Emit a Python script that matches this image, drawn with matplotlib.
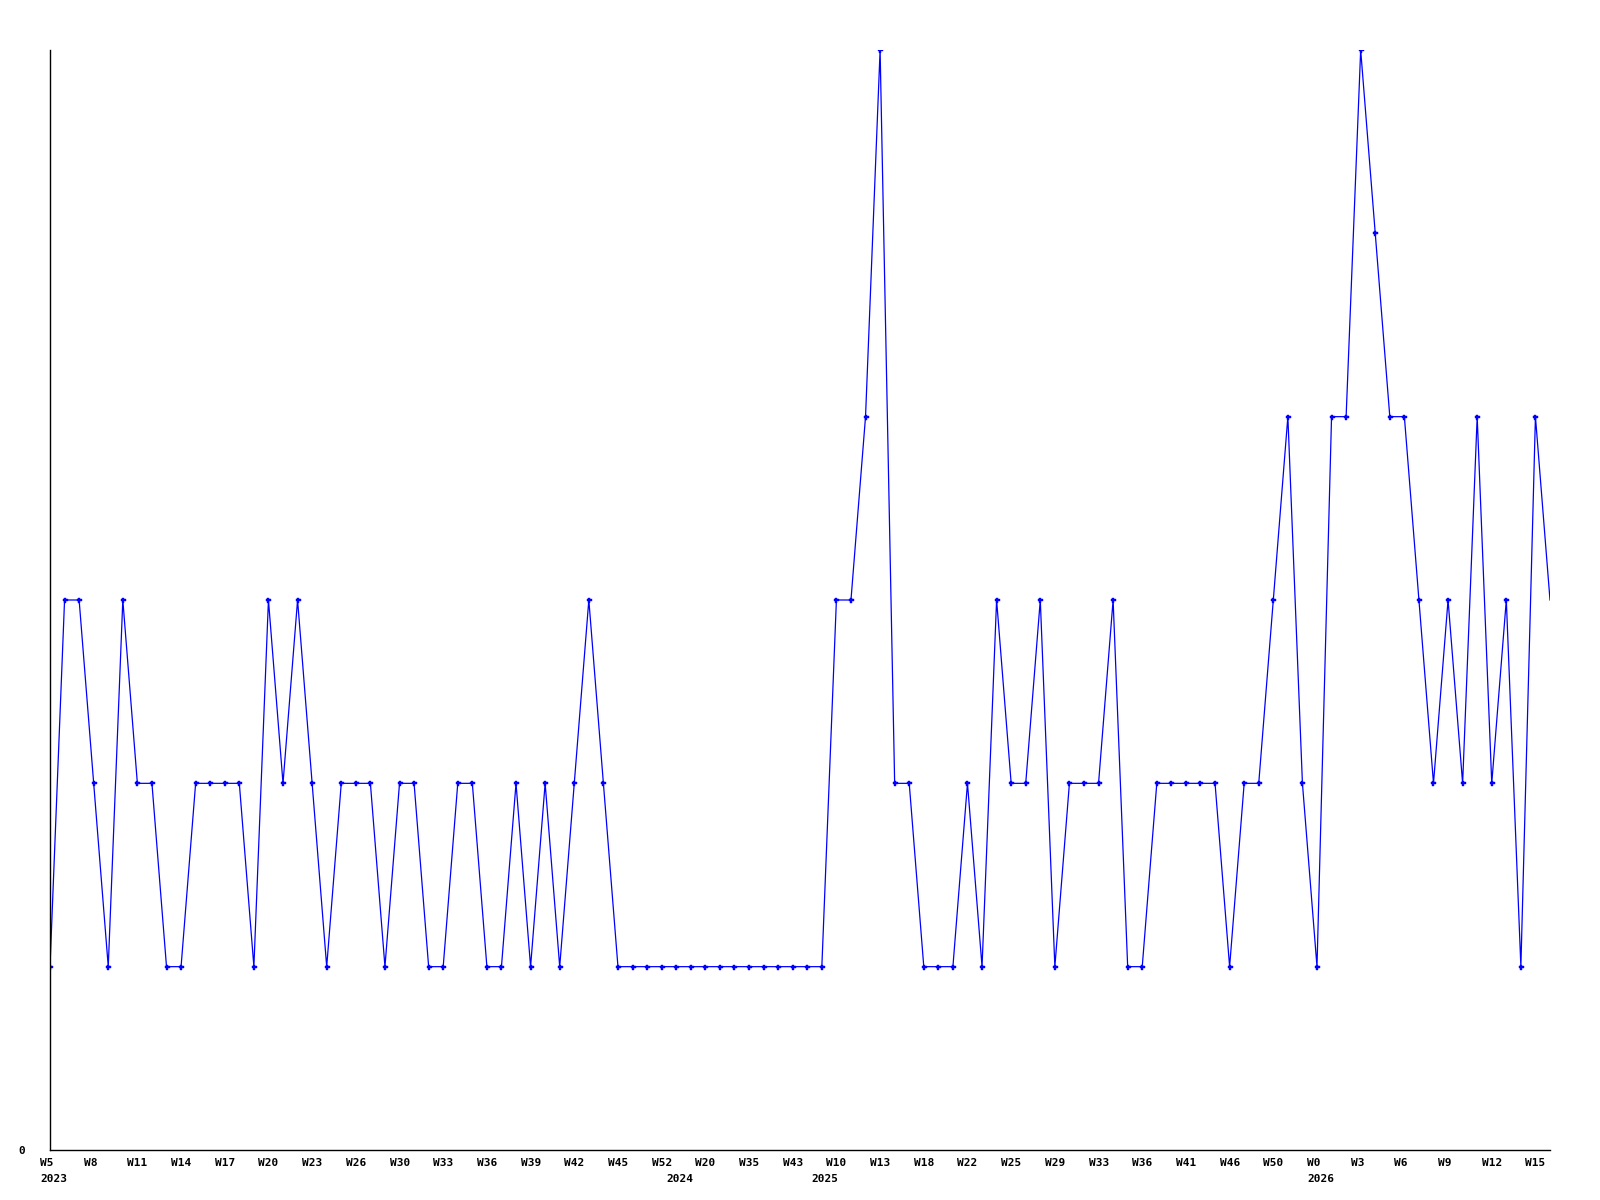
import matplotlib
matplotlib.use("Agg")
import matplotlib.pyplot as plt
import matplotlib.transforms as mtransforms

values = [1, 3, 3, 2, 1, 3, 2, 2, 1, 1,
          2, 2, 2, 2, 1, 3, 2, 3, 2, 1,
          2, 2, 2, 1, 2, 2, 1, 1, 2, 2,
          1, 1, 2, 1, 2, 1, 2, 3, 2,
          1, 1, 1, 1, 1, 1, 1, 1, 1, 1, 1, 1, 1, 1, 1,
          3, 3, 4, 6, 2, 2, 1, 1, 1, 2,
          1, 3, 2, 2, 3, 1, 2, 2, 2, 3,
          1, 1, 2, 2, 2, 2, 2, 1, 2, 2,
          3, 4, 2, 1, 4, 4, 6, 5, 4, 4,
          3, 2, 3, 2, 4, 2, 3, 1, 4, 3]

week_labels = ["W5", "W8", "W11", "W14", "W17", "W20", "W23", "W26", "W30",
               "W33", "W36", "W39", "W42", "W45", "W52", "W20", "W35", "W43",
               "W10", "W13", "W18", "W22", "W25", "W29", "W33", "W36", "W41",
               "W46", "W50", "W0", "W3", "W6", "W9", "W12", "W15"]
week_step = 3

year_labels = ["2023", "2024", "2025", "2026"]
year_positions = [0, 43, 53, 87]

fig = plt.figure(figsize=(16, 12), dpi=100)
ax = fig.add_axes([50 / 1600, 50 / 1200, 1500 / 1600, 1100 / 1200])

x = list(range(len(values)))
ax.plot(x, values, color="#0000ff", lw=0.9, marker="P", ms=3.6,
        mec="#0000ff", mfc="#0000ff", mew=0.3,
        markevery=list(range(len(values) - 1)))
ax.set_xlim(0, len(values) - 1)
ax.set_ylim(0, 6)

for s in ["top", "right"]:
    ax.spines[s].set_visible(False)
for s in ["left", "bottom"]:
    ax.spines[s].set_linewidth(1.0)
    ax.spines[s].set_color("black")

ax.set_xticks([])
ax.set_yticks([0])
ax.set_yticklabels(["0"], fontfamily="DejaVu Sans Mono", fontweight="bold",
                   fontsize=8)
ax.tick_params(axis="y", length=0, pad=18)

font = dict(fontfamily="DejaVu Sans Mono", fontweight="bold", fontsize=8)
blend = mtransforms.blended_transform_factory(ax.transData, ax.transAxes)
week_tr = blend + mtransforms.ScaledTranslation(-10 / 100, -13 / 100,
                                                fig.dpi_scale_trans)
year_tr = blend + mtransforms.ScaledTranslation(-10 / 100, -29 / 100,
                                                fig.dpi_scale_trans)
for i, lab in enumerate(week_labels):
    ax.text(i * week_step, 0, lab, transform=week_tr, ha="left", va="center",
            clip_on=False, **font)
for pos, lab in zip(year_positions, year_labels):
    ax.text(pos, 0, lab, transform=year_tr, ha="left", va="center",
            clip_on=False, **font)

fig.savefig("out.png", dpi=100)
